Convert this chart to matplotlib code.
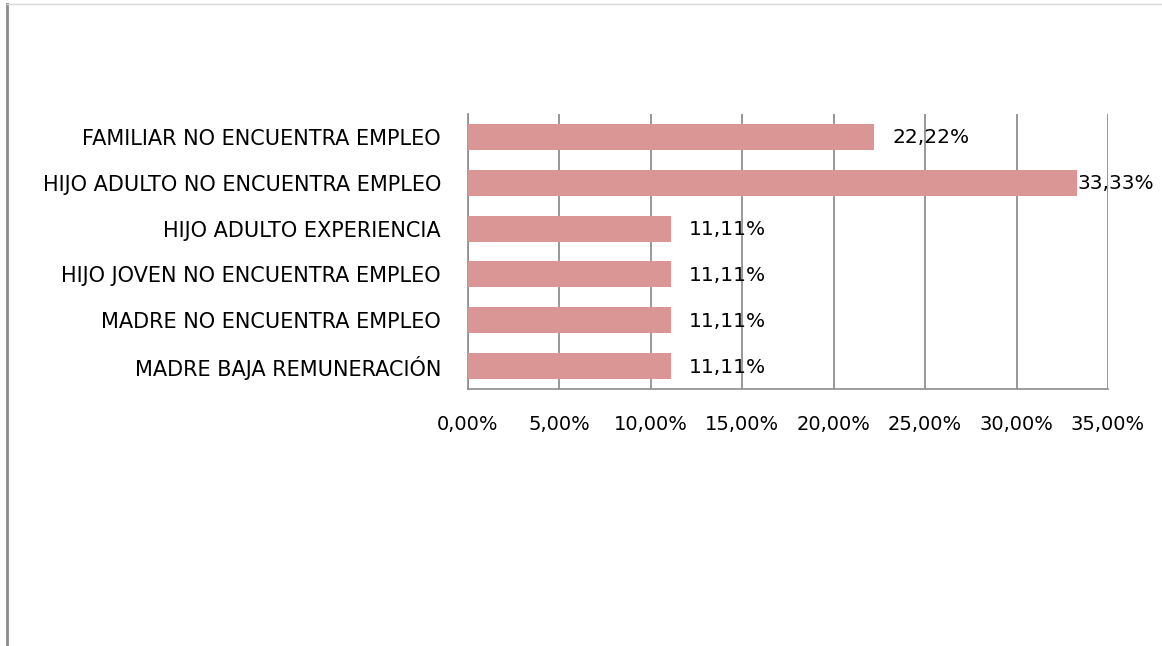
import matplotlib
matplotlib.use('Agg')
import matplotlib.pyplot as plt
from matplotlib.ticker import FuncFormatter
from matplotlib.lines import Line2D

categories = [
    "FAMILIAR NO ENCUENTRA EMPLEO",
    "HIJO ADULTO NO ENCUENTRA EMPLEO",
    "HIJO ADULTO EXPERIENCIA",
    "HIJO JOVEN NO ENCUENTRA EMPLEO",
    "MADRE NO ENCUENTRA EMPLEO",
    "MADRE BAJA REMUNERACIÓN",
]
values = [22.22, 33.33, 11.11, 11.11, 11.11, 11.11]
xticks = [0, 5, 10, 15, 20, 25, 30, 35]

plt.rcParams['font.family'] = ['DejaVu Sans']

fig = plt.figure(figsize=(11.62, 6.46), dpi=100)
ax = fig.add_axes([468 / 1162, 1 - 389 / 646, 640 / 1162, 275 / 646])

ypos = list(range(len(categories)))
ax.barh(ypos, values, height=0.57, color="#D99694", zorder=3)

ax.set_xlim(0, 35)
ax.set_ylim(len(categories) - 0.5, -0.5)
ax.set_xticks(xticks)
ax.xaxis.set_major_formatter(FuncFormatter(lambda v, p: ("%.2f%%" % v).replace(".", ",")))
ax.set_yticks(ypos)
ax.set_yticklabels(categories)
ax.tick_params(axis='y', length=0, pad=19.5, labelsize=15)
ax.tick_params(axis='x', length=0, pad=18.5, labelsize=14)

ax.grid(axis='x', color="#868686", lw=1.2, zorder=1)
for s in ["top", "right"]:
    ax.spines[s].set_visible(False)
for s in ["left", "bottom"]:
    ax.spines[s].set_color("#8C8C8C")
    ax.spines[s].set_linewidth(1.2)

vmax = max(values)
for y, v in zip(ypos, values):
    lab = ("%.2f%%" % v).replace(".", ",")
    off = 0 if v == vmax else 18
    ax.annotate(lab, (v, y), xytext=(off, -1), textcoords="offset pixels",
                va="center", ha="left", fontsize=14.5, zorder=4)

# chart frame edges
fig.add_artist(Line2D([7 / 1162, 7 / 1162], [0, 1 - 4 / 646], transform=fig.transFigure,
                      color="#8C8C8C", lw=2))
fig.add_artist(Line2D([7 / 1162, 1], [1 - 4 / 646, 1 - 4 / 646], transform=fig.transFigure,
                      color="#D9D9D9", lw=1))

plt.savefig("out.png", dpi=100)
